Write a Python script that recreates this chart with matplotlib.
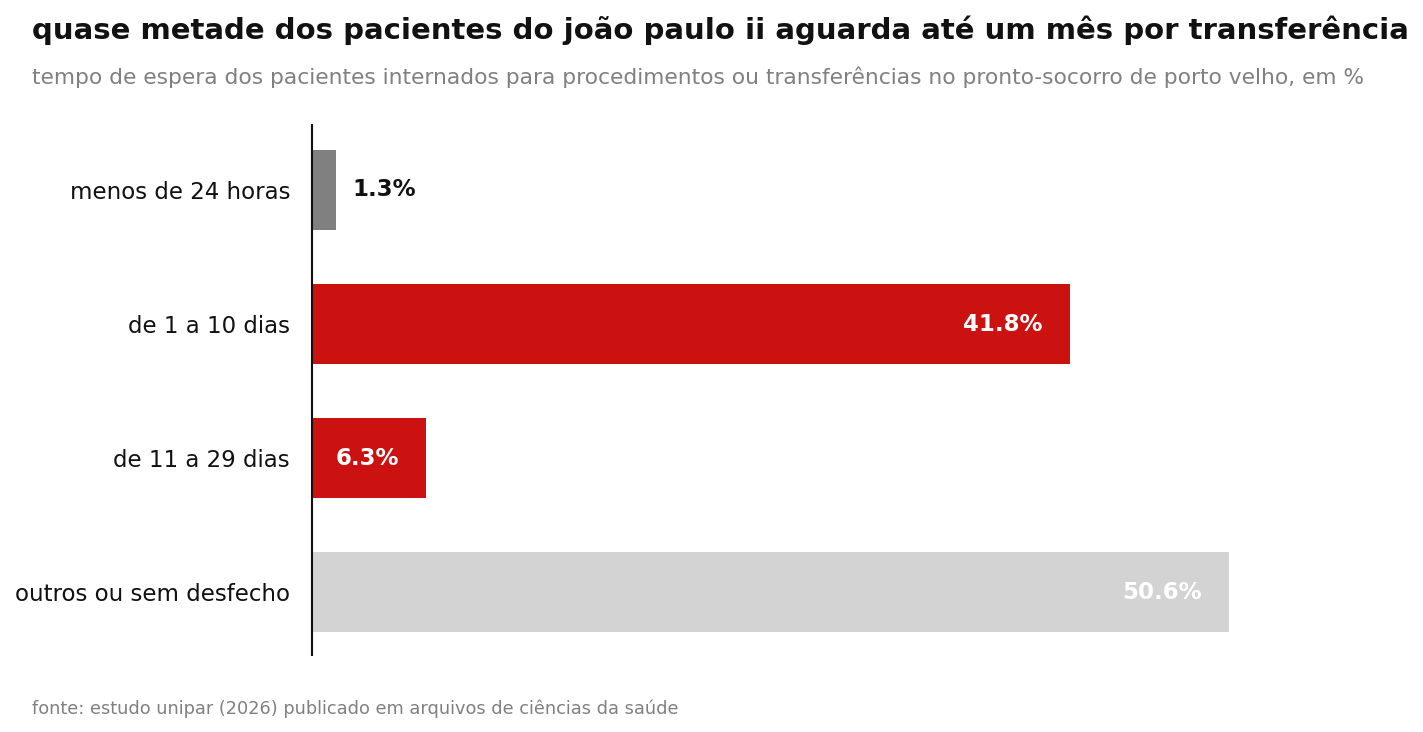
import matplotlib
matplotlib.use("Agg")
import matplotlib.pyplot as plt

# dados
categorias = ["menos de 24 horas", "de 1 a 10 dias", "de 11 a 29 dias", "outros ou sem desfecho"]
valores = [1.3, 41.8, 6.3, 50.6]
cores = ["#808080", "#cc1111", "#cc1111", "#d3d3d3"]
rotulos = ["1.3%", "41.8%", "6.3%", "50.6%"]

fig = plt.figure(figsize=(14.23, 7.32), dpi=100)
ax = fig.add_axes([312 / 1423, 1 - 655 / 732, 997 / 1423, 530 / 732])

y = list(range(len(categorias)))
ax.barh(y, valores, height=0.6, color=cores)
ax.set_ylim(3.47, -0.485)
ax.set_xlim(0, 55)

ax.set_yticks(y)
ax.set_yticklabels(categorias, fontsize=16.5, color="#111111")
ax.tick_params(axis="y", length=0, pad=15.8)
ax.set_xticks([])
for s in ["top", "right", "bottom"]:
    ax.spines[s].set_visible(False)
ax.spines["left"].set_color("#111111")
ax.spines["left"].set_linewidth(1.5)

# rótulos dos valores
for i, v in enumerate(valores):
    if v < 3:
        ax.annotate(rotulos[i], (v, i), xytext=(17, 0), textcoords="offset pixels",
                    ha="left", va="center", fontsize=16.5, fontweight="bold", color="#111111")
    else:
        ax.annotate(rotulos[i], (v, i), xytext=(-27, 0), textcoords="offset pixels",
                    ha="right", va="center", fontsize=16.5, fontweight="bold", color="white")

fig.text(32 / 1423, 1 - 39 / 732,
         "quase metade dos pacientes do joão paulo ii aguarda até um mês por transferência",
         fontsize=21, fontweight="bold", color="#111111", ha="left", va="baseline")
fig.text(32 / 1423, 1 - 84 / 732,
         "tempo de espera dos pacientes internados para procedimentos ou transferências no pronto-socorro de porto velho, em %",
         fontsize=15.7, color="#808080", ha="left", va="baseline")
fig.text(32 / 1423, 1 - 714 / 732,
         "fonte: estudo unipar (2026) publicado em arquivos de ciências da saúde",
         fontsize=12.8, color="#808080", ha="left", va="baseline")

fig.savefig("out.png", dpi=100)
